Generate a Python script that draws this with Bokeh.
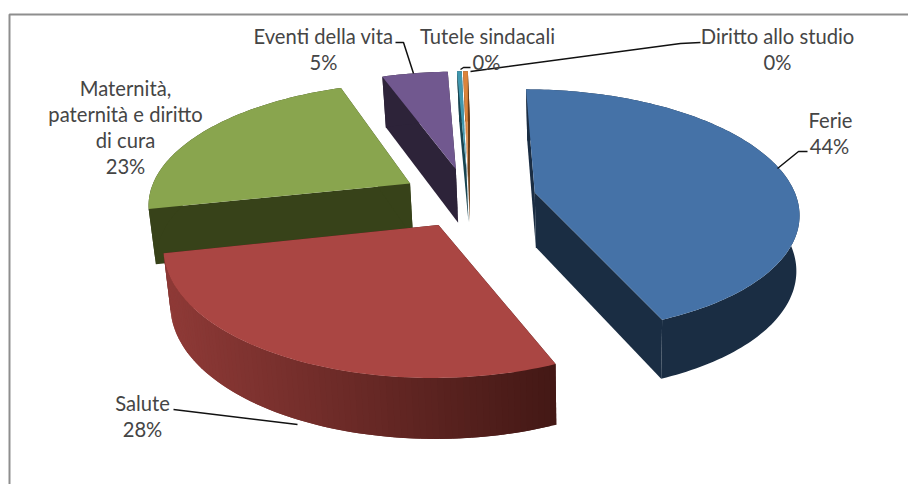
import math
from bokeh.plotting import figure
from bokeh.models import ColumnDataSource
from bokeh.embed import file_html
from bokeh.resources import INLINE
from bokeh.core.properties import value

# ---- data
categories = ["Ferie", "Salute", "Maternità, paternità e diritto di cura",
              "Eventi della vita", "Tutele sindacali", "Diritto allo studio"]
shares = [43.7, 27.9, 22.9, 4.8, 0.35, 0.35]
explode = [0.26, 0.24, 0.26, 0.26, 0.26, 0.26]
top_colors = ["#4572A7", "#AA4643", "#89A54E", "#71588F", "#4198AF", "#DB843D"]
side_colors = ["#1A2D43", "#8F3A37", "#374219", "#2D2339", "#184450", "#6E3F17"]
side_end_colors = ["#1A2D43", "#431815", "#374219", "#2D2339", "#184450", "#6E3F17"]

label_lines = [["Ferie"], ["Salute"], ["Maternità,", "paternità e diritto", "di cura"],
               ["Eventi della vita"], ["Tutele sindacali"], ["Diritto allo studio"]]
label_x = [830, 142, 125, 323, 487, 777]
label_y = [119, 402, 87, 35, 35, 35]
pct_x = [829, 142, 125, 323, 486, 777]

# ---- projection of the exploded disc
CX, CY, R, K, A, DEPTH, TILT, VX = 468, 198, 262, 0.46, 0.153, 55, 0.016, 600


def project(theta, r, mid, e, z=0.0):
    wx = e * math.sin(mid) + r * math.sin(theta)
    wy = -(e * math.cos(mid) + r * math.cos(theta))
    s = 1 / (1 - A * wy)
    x = CX + R * wx * s
    return (x + (VX - x) * TILT * z,
            CY + K * R * wy * s + DEPTH * z * s ** 0.5)


def mix(c1, c2, t):
    a = [int(c1[i:i + 2], 16) for i in (1, 3, 5)]
    b = [int(c2[i:i + 2], 16) for i in (1, 3, 5)]
    return "#%02x%02x%02x" % tuple(round(a[i] + (b[i] - a[i]) * t) for i in range(3))


total = sum(shares)
edges = [0.0]
for v in shares:
    edges.append(edges[-1] + v / total * 2 * math.pi)

p = figure(width=908, height=484, x_range=(0, 908), y_range=(484, 0),
           output_backend="svg", toolbar_location=None, min_border=0,
           outline_line_color=None)
p.axis.visible = False
p.grid.visible = False
p.background_fill_color = "white"

# frame
p.line([908, 9, 9], [14, 14, 484], line_color="#8e8e8e", line_width=2)

faces = {"xs": [], "ys": [], "c": []}


def add(poly, color):
    faces["xs"].append([q[0] for q in poly])
    faces["ys"].append([q[1] for q in poly])
    faces["c"].append(color)


for i in [3, 4, 5, 2, 0, 1]:
    a0, a1 = edges[i], edges[i + 1]
    mid = (a0 + a1) / 2
    e = explode[i]
    n = max(2, int((a1 - a0) / 0.02))
    th = [a0 + (a1 - a0) * j / n for j in range(n + 1)]
    # radial walls
    for t in (a0, a1):
        add([project(t, 0, mid, e), project(t, 1, mid, e),
             project(t, 1, mid, e, 1), project(t, 0, mid, e, 1)], side_end_colors[i])
    # rim: one polygon when flat, bands when it is shaded
    if side_colors[i] == side_end_colors[i]:
        add([project(t, 1, mid, e) for t in th] + [project(t, 1, mid, e, 1) for t in reversed(th)],
            side_colors[i])
    else:
        xa = project(th[0], 1, mid, e)[0]
        xb = project(th[-1], 1, mid, e)[0]
        for j in range(n):
            k2 = min(j + 2, n)
            xm = project((th[j] + th[j + 1]) / 2, 1, mid, e)[0]
            t = (xm - xb) / (xa - xb)
            add([project(th[j], 1, mid, e), project(th[k2], 1, mid, e),
                 project(th[k2], 1, mid, e, 1), project(th[j], 1, mid, e, 1)],
                mix(side_colors[i], side_end_colors[i], t))
    # top face
    add([project(a0, 0, mid, e)] + [project(t, 1, mid, e) for t in th], top_colors[i])

p.patches("xs", "ys", source=ColumnDataSource(faces), fill_color="c", line_color=None)

# leader lines
leaders_x = [[777, 798, 807], [297, 173], [], [413, 403, 395], [460, 463, 470], [470, 680, 700]]
leaders_y = [[168, 151, 151], [424, 409], [], [73, 42, 42], [69, 67, 67], [71, 43, 42]]
for lx, ly in zip(leaders_x, leaders_y):
    if lx:
        p.line(lx, ly, line_color="#111111", line_width=1.5)

# labels
LINE = 26.3
tx, ty, tt = [], [], []
for i in range(len(categories)):
    for j, s in enumerate(label_lines[i]):
        tx.append(label_x[i]); ty.append(label_y[i] + j * LINE); tt.append(s)
    tx.append(pct_x[i]); ty.append(label_y[i] + len(label_lines[i]) * LINE)
    tt.append("%d%%" % round(shares[i]))
p.text(tx, ty, text=tt, text_font=value("Lato"), text_font_size="20.2px", text_color="#454545",
       text_align="center", text_baseline="middle")

open("out.html", "w").write(file_html(p, INLINE))
